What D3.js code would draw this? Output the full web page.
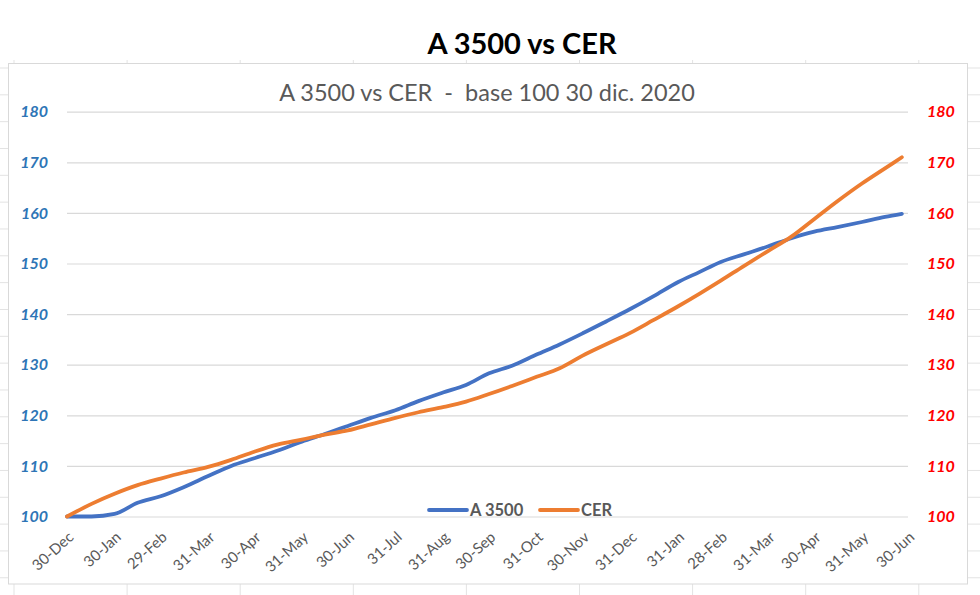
<!DOCTYPE html>
<html>
<head>
<meta charset="utf-8">
<script src="https://cdn.jsdelivr.net/npm/d3@7"></script>
<style>
  html, body { margin: 0; padding: 0; background: #fff; }
  svg { display: block; }
</style>
</head>
<body>
<svg id="chart" width="980" height="595"></svg>
<script>
// ---- data ----
const dates = [
  "2019-12-30","2020-01-15","2020-01-30","2020-02-14","2020-02-29","2020-03-15","2020-03-31",
  "2020-04-15","2020-04-30","2020-05-15","2020-05-31","2020-06-15","2020-06-30","2020-07-15",
  "2020-07-31","2020-08-15","2020-08-31","2020-09-15","2020-09-30","2020-10-15","2020-10-31",
  "2020-11-15","2020-11-30","2020-12-15","2020-12-31","2021-01-15","2021-01-31","2021-02-14",
  "2021-02-28","2021-03-15","2021-03-31","2021-04-15","2021-04-30","2021-05-15","2021-05-31",
  "2021-06-15","2021-06-26"
];
const a3500 = [
  100.0,100.0,100.5,102.7,104.0,105.8,108.0,
  110.0,111.5,113.0,114.8,116.3,117.9,119.5,
  121.0,122.8,124.5,126.0,128.3,129.8,132.0,
  134.0,136.2,138.5,141.0,143.5,146.3,148.3,
  150.3,151.8,153.4,155.0,156.3,157.2,158.2,
  159.2,159.8
];
const cer = [
  100.0,102.5,104.5,106.2,107.5,108.7,109.8,
  111.2,112.8,114.2,115.2,116.2,117.0,118.2,
  119.5,120.6,121.6,122.7,124.2,125.8,127.6,
  129.3,131.8,134.0,136.3,138.8,141.5,144.0,
  146.6,149.5,152.5,155.3,158.8,162.3,165.8,
  168.8,171.0
];
const tickDates = [
  "2019-12-30","2020-01-30","2020-02-29","2020-03-31","2020-04-30","2020-05-31","2020-06-30",
  "2020-07-31","2020-08-31","2020-09-30","2020-10-31","2020-11-30","2020-12-31","2021-01-31",
  "2021-02-28","2021-03-31","2021-04-30","2021-05-31","2021-06-30"
];
const tickLabels = [
  "30-Dec","30-Jan","29-Feb","31-Mar","30-Apr","31-May","30-Jun","31-Jul","31-Aug","30-Sep",
  "31-Oct","30-Nov","31-Dec","31-Jan","28-Feb","31-Mar","30-Apr","31-May","30-Jun"
];
const yTicks = [100,110,120,130,140,150,160,170,180];
const seriesNames = ["A 3500","CER"];
const titleText = "A 3500 vs CER";
const subtitleText = "A 3500 vs CER  -  base 100 30 dic. 2020";

// ---- layout ----
const W = 980, H = 595;
const plot = { left: 67, right: 908, top: 111.7, bottom: 516.5 };
const colors = { a: "#4472C4", c: "#ED7D31", grid: "#D9D9D9", text: "#595959" };
const FONT = "Lato, 'Liberation Sans', sans-serif";
const parse = d3.timeParse("%Y-%m-%d");

const svg = d3.select("#chart");

// spreadsheet cell lines around chart
const rows = d3.range(0, 20).map(k => 68 + k * 26.83);
const cols = d3.range(0, 9).map(k => 14 + k * 113.1);
const sheet = svg.append("g").attr("stroke", "#E3E3E3").attr("stroke-width", 1);
rows.forEach(r => {
  sheet.append("line").attr("x1", 0).attr("x2", 8).attr("y1", r).attr("y2", r);
  sheet.append("line").attr("x1", 968).attr("x2", 980).attr("y1", r).attr("y2", r);
});
cols.forEach(c => {
  sheet.append("line").attr("x1", c).attr("x2", c).attr("y1", 584).attr("y2", 595);
  sheet.append("line").attr("x1", c).attr("x2", c).attr("y1", 60).attr("y2", 63);
});

// chart frame
svg.append("rect").attr("x", 8.5).attr("y", 63.5).attr("width", 959).attr("height", 520.5)
  .attr("fill", "#fff").attr("stroke", colors.grid).attr("stroke-width", 1);

// title
svg.append("text").attr("x", 522).attr("y", 54).attr("text-anchor", "middle")
  .attr("font-family", FONT).attr("font-weight", 700)
  .attr("font-size", 29).attr("fill", "#000").text(titleText);
svg.append("text").attr("x", 487).attr("y", 101).attr("text-anchor", "middle")
  .attr("xml:space", "preserve").style("white-space", "pre")
  .attr("font-family", FONT).attr("font-weight", 400)
  .attr("font-size", 23.5).attr("fill", colors.text).text(subtitleText);

// scales
const x = d3.scaleTime().domain([parse("2019-12-30"), parse("2021-06-30")]).range([plot.left, plot.right]);
const y = d3.scaleLinear().domain([100, 180]).range([plot.bottom, plot.top]);

// gridlines
const grid = svg.append("g").attr("transform", `translate(${plot.left},0)`)
  .call(d3.axisLeft(y).tickValues(yTicks).tickSize(-(plot.right - plot.left)).tickFormat(""));
grid.select(".domain").remove();
grid.selectAll("line").attr("stroke", colors.grid).attr("stroke-width", 1.2);

// left axis labels
const yl = svg.append("g").attr("transform", `translate(48,0)`)
  .call(d3.axisLeft(y).tickValues(yTicks).tickSize(0).tickPadding(0));
yl.select(".domain").remove();
yl.selectAll("text").attr("font-family", FONT)
  .attr("font-weight", 700).attr("font-style", "italic").attr("font-size", 16)
  .attr("fill", "#2E75B6");

// right axis labels
const yr = svg.append("g").attr("transform", `translate(927,0)`)
  .call(d3.axisRight(y).tickValues(yTicks).tickSize(0).tickPadding(0));
yr.select(".domain").remove();
yr.selectAll("text").attr("font-family", FONT)
  .attr("font-weight", 700).attr("font-style", "italic").attr("font-size", 16)
  .attr("fill", "#FF0000");

// x axis labels
const xa = svg.append("g").attr("transform", `translate(0,${plot.bottom})`)
  .call(d3.axisBottom(x).tickValues(tickDates.map(parse)).tickSize(0)
    .tickFormat((d, i) => tickLabels[i]));
xa.select(".domain").remove();
xa.selectAll("text")
  .attr("font-family", FONT).attr("font-size", 15)
  .attr("fill", colors.text).attr("text-anchor", "end")
  .attr("dy", null).attr("y", null)
  .attr("transform", "translate(7,22) rotate(-42)");

// lines
const data = dates.map((d, i) => ({ date: parse(d), a: a3500[i], c: cer[i] }));
const lineA = d3.line().x(d => x(d.date)).y(d => y(d.a)).curve(d3.curveMonotoneX);
const lineC = d3.line().x(d => x(d.date)).y(d => y(d.c)).curve(d3.curveMonotoneX);
svg.append("path").datum(data).attr("d", lineA).attr("fill", "none")
  .attr("stroke", colors.a).attr("stroke-width", 3.8).attr("stroke-linecap", "round");
svg.append("path").datum(data).attr("d", lineC).attr("fill", "none")
  .attr("stroke", colors.c).attr("stroke-width", 3.8).attr("stroke-linecap", "round");

// legend
const leg = svg.append("g").attr("font-family", FONT)
  .attr("font-weight", 700).attr("font-size", 16.5).attr("fill", colors.text);
const legItems = [
  { name: seriesNames[0], color: colors.a, x: 429 },
  { name: seriesNames[1], color: colors.c, x: 540 }
];
legItems.forEach(it => {
  leg.append("line").attr("x1", it.x).attr("x2", it.x + 38).attr("y1", 510).attr("y2", 510)
    .attr("stroke", it.color).attr("stroke-width", 3.8).attr("stroke-linecap", "round");
  leg.append("text").attr("x", it.x + 41).attr("y", 516).text(it.name);
});
</script>
</body>
</html>
